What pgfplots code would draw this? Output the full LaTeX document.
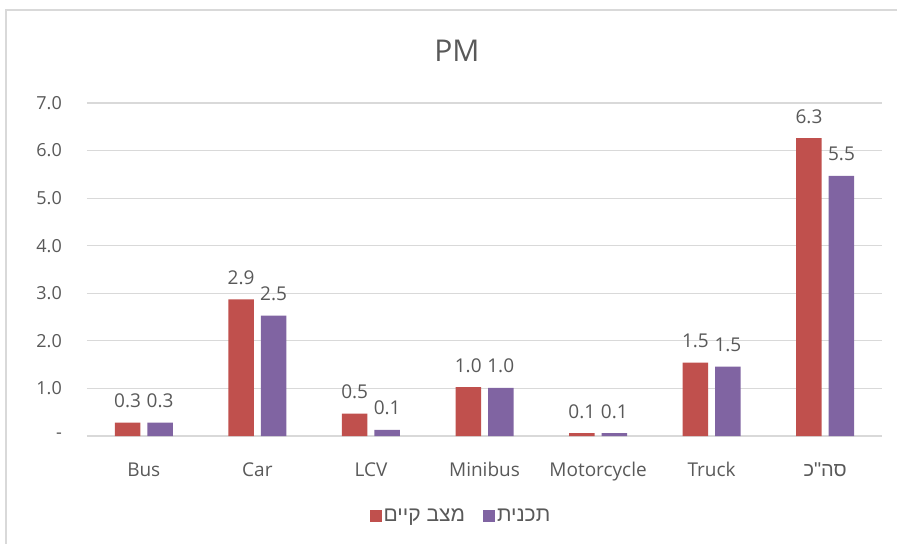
\documentclass[border=0pt]{standalone}
\usepackage{fontspec}
\setmainfont{Open Sans}
\newfontfamily\hebfont[Script=Hebrew]{Liberation Sans}
\TeXXeTstate=1
\usepackage{pgfplots}
\pgfplotsset{compat=1.18}
\definecolor{current}{HTML}{C0504D}
\definecolor{plan}{HTML}{8064A2}
\definecolor{txt}{HTML}{595959}
\definecolor{gridc}{HTML}{D9D9D9}

\pgfplotstableread{
x name        current plan
0 Bus         0.28    0.28
1 Car         2.87    2.53
2 LCV         0.47    0.13
3 Minibus     1.03    1.01
4 Motorcycle  0.06    0.06
5 Truck       1.54    1.46
6 Total       6.26    5.47
}\pmdata

\newcommand{\fs}[1]{\fontsize{#1}{#1}\selectfont}

\begin{document}
\begin{tikzpicture}
\useasboundingbox (-87bp,-108bp) rectangle (810bp,436bp);
\draw[gridc, line width=1.2bp] (-81bp,-110bp) -- (-81bp,426bp) -- (812bp,426bp);
\begin{axis}[
  at={(0,0)}, anchor=south west,
  scale only axis,
  width=795bp, height=333bp,
  ybar=7bp,
  bar width=25.5bp,
  xmin=-0.5, xmax=6.5,
  ymin=0, ymax=7,
  xtick=data,
  xticklabels={Bus, Car, LCV, Minibus, Motorcycle, Truck, {\hebfont\fs{20bp}\beginR סה"כ\endR}},
  ytick={0,1,...,7},
  yticklabels={-, 1.0, 2.0, 3.0, 4.0, 5.0, 6.0, 7.0},
  ymajorgrids,
  grid style={gridc, line width=1.2bp},
  axis line style={draw=none},
  tick style={draw=none},
  /pgf/number format/assume math mode=true,
  xticklabel style={font=\fs{19bp}, text=txt, anchor=base, yshift=-36bp},
  yticklabel style={font=\fs{18bp}, text=txt, anchor=east, inner sep=0pt, xshift=-25bp},
  nodes near coords,
  nodes near coords style={font=\fs{19bp}, text=txt, anchor=base, inner sep=0pt, yshift=15bp,
    /pgf/number format/.cd, fixed, fixed zerofill, precision=1, assume math mode=true},
  legend columns=2,
  legend style={at={(0.4704,-0.24)}, anchor=center, draw=none, fill=none,
    font=\fs{21bp}, text=txt,
    /tikz/every even column/.append style={column sep=16bp}},
  legend cell align=left,
]
\addplot[fill=current, draw=none,
  legend image code/.code={\fill[current] (0bp,-6bp) rectangle (12bp,6bp);}]
  table[x=x, y=current] {\pmdata};
\addplot[fill=plan, draw=none,
  legend image code/.code={\fill[plan] (0bp,-6bp) rectangle (12bp,6bp);}]
  table[x=x, y=plan] {\pmdata};
\legend{{\hebfont\beginR מצב קיים\endR}, {\hebfont\beginR תכנית\endR}}
\end{axis}
\node[anchor=base, font=\fs{30bp}, text=txt] at (370bp,374bp) {PM};
\end{tikzpicture}
\end{document}
